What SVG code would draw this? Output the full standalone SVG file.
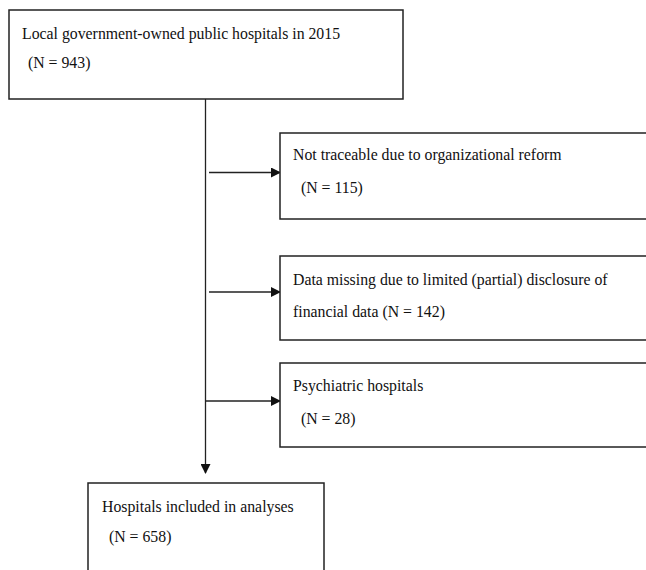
<svg xmlns="http://www.w3.org/2000/svg" width="646" height="570" viewBox="0 0 646 570">
<style>
.box{fill:#fff;stroke:#222;stroke-width:1.5}
.ln{stroke:#222;stroke-width:1.3;fill:none}
text{font-family:"Liberation Serif","Times New Roman",serif;font-size:15.8px;fill:#111}
</style>
<defs>
<marker id="ah" markerWidth="10" markerHeight="10" refX="9" refY="5" orient="auto" markerUnits="userSpaceOnUse">
<path d="M0,0 L10,5 L0,10 Z" fill="#111"/>
</marker>
</defs>
<rect width="646" height="570" fill="#fff"/>
<g id="connectors">
<line class="ln" x1="205.5" y1="99" x2="205.5" y2="473" marker-end="url(#ah)"/>
<line class="ln" x1="209" y1="172.5" x2="280" y2="172.5" marker-end="url(#ah)"/>
<line class="ln" x1="209" y1="292" x2="280" y2="292" marker-end="url(#ah)"/>
<line class="ln" x1="205.5" y1="401" x2="280" y2="401" marker-end="url(#ah)"/>
</g>
<g id="n1">
<rect class="box" x="9" y="10" width="394" height="89"/>
<text x="22" y="39">Local government-owned public hospitals in 2015</text>
<text x="28" y="68">(N = 943)</text>
</g>
<g id="n2">
<rect class="box" x="280" y="133" width="368" height="86"/>
<text x="293" y="160">Not traceable due to organizational reform</text>
<text x="301" y="193">(N = 115)</text>
</g>
<g id="n3">
<rect class="box" x="280" y="256" width="368" height="84"/>
<text x="293" y="285">Data missing due to limited (partial) disclosure of</text>
<text x="293" y="317">financial data (N = 142)</text>
</g>
<g id="n4">
<rect class="box" x="280" y="363" width="368" height="84"/>
<text x="293" y="391">Psychiatric hospitals</text>
<text x="301" y="424">(N = 28)</text>
</g>
<g id="n5">
<rect class="box" x="88" y="483" width="236" height="100"/>
<text x="102" y="512">Hospitals included in analyses</text>
<text x="109" y="542">(N = 658)</text>
</g>
</svg>
